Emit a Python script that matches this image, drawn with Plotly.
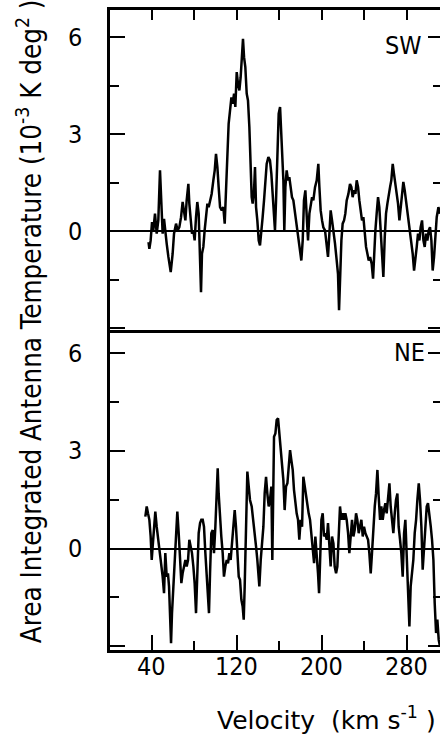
import plotly.graph_objects as go

# ---- data (velocity km/s, temperature 1e-3 K deg^2) ----
sw_velocity = [37.0, 37.8, 39.0, 40.3, 41.5, 43.1, 44.7, 46.2, 47.8, 49.1, 50.3, 51.6, 52.8, 54.1, 55.7, 57.9, 59.7, 61.0, 62.9, 64.4,
               66.0, 67.6, 69.1, 70.4, 71.7, 72.9, 74.5, 75.4, 76.7, 77.9, 79.2, 80.4, 81.7, 82.9, 84.2, 85.5, 86.4, 87.3, 88.6, 89.8,
               91.1, 92.4, 93.6, 94.9, 96.4, 98.0, 99.3, 100.5, 101.8, 103.0, 104.3, 105.9, 107.4, 108.7, 109.9, 111.2, 112.4, 113.7, 115.0, 116.2,
               117.5, 118.7, 120.0, 121.2, 122.5, 123.7, 125.0, 125.9, 126.9, 128.1, 129.4, 130.6, 131.9, 133.1, 134.1, 135.0, 136.3, 137.2, 138.2, 139.4,
               140.7, 141.9, 143.2, 144.4, 145.7, 147.0, 148.2, 149.8, 151.3, 152.6, 153.8, 155.1, 156.0, 157.0, 158.2, 159.5, 160.8, 161.7, 162.6, 163.9,
               164.8, 165.8, 167.0, 168.3, 169.5, 170.8, 172.0, 173.3, 174.9, 176.4, 178.0, 179.6, 180.8, 182.1, 183.3, 184.6, 185.9, 187.1, 188.4, 189.6,
               190.9, 192.1, 193.7, 195.3, 196.8, 197.8, 199.0, 200.3, 201.5, 203.1, 204.7, 205.9, 207.2, 208.4, 209.7, 211.0, 212.5, 214.1, 215.3, 216.3,
               217.2, 218.5, 219.7, 221.0, 222.2, 223.5, 225.1, 226.6, 227.9, 229.1, 230.4, 231.7, 232.9, 234.2, 235.4, 236.7, 237.9, 239.2, 240.4, 241.7,
               243.0, 244.2, 245.5, 247.0, 248.3, 249.2, 250.5, 251.7, 253.0, 254.2, 255.5, 256.8, 258.0, 259.3, 260.5, 261.8, 263.0, 264.3, 265.5, 266.8,
               268.0, 269.3, 270.6, 271.8, 273.1, 274.3, 275.6, 276.8, 278.1, 279.3, 280.6, 281.9, 283.1, 284.4, 285.6, 286.9, 288.1, 289.4, 290.6, 291.9,
               293.1, 294.4, 295.7, 296.9, 298.2, 299.4, 300.7, 301.9, 303.2, 304.4, 305.7, 307.0, 308.2, 309.8, 311.3]
sw_temp = [-0.34, -0.55, -0.29, 0.28, 0.02, 0.54, -0.08, 0.33, 1.88, 0.95, -0.08, 0.38, -0.08, -0.39, -0.80, -1.27, -0.70, -0.08, 0.23, 0.02,
           0.12, 0.43, 0.90, 0.54, 0.33, 0.95, 1.46, 0.85, 0.33, -0.08, 0.02, -0.29, 0.43, 0.90, 0.54, -1.01, -1.89, -0.70, -0.49, 0.02,
           0.54, 0.85, 0.74, 0.90, 1.15, 1.57, 1.88, 2.39, 1.98, 1.36, 0.74, 0.64, 0.74, 0.23, 1.15, 1.98, 3.32, 3.73, 4.14, 3.94,
           4.25, 3.84, 4.92, 4.56, 4.35, 4.76, 5.48, 5.95, 5.38, 5.07, 4.25, 4.04, 3.22, 1.98, 1.05, 0.85, 1.26, 1.98, 0.74, 0.33,
           -0.29, -0.44, -0.08, 0.43, 0.95, 1.77, 2.08, 2.29, 2.19, 1.77, 1.05, 0.54, 0.02, 0.95, 2.49, 3.63, 3.84, 3.22, 2.39, 1.57,
           0.02, 1.36, 1.88, 1.57, 1.67, 1.36, 1.05, 0.95, 0.54, 0.12, -0.29, -0.70, -0.91, -0.29, 0.95, 1.26, 0.43, -0.29, 0.54, 0.85,
           1.05, 0.95, 1.36, 1.57, 2.08, 1.36, 0.64, 0.33, 0.12, 0.02, -0.49, -0.80, -0.08, 0.64, 0.33, 0.02, -0.39, -0.91, -1.32, -2.45,
           -1.42, -0.29, 0.23, 0.33, 0.54, 0.95, 1.15, 1.46, 1.36, 1.05, 1.26, 1.15, 1.57, 1.36, 0.95, 0.54, 0.33, 0.43, -0.08, -0.49,
           -0.70, -0.91, -0.80, -1.01, -1.47, -0.70, 0.02, 0.54, 1.05, 0.74, -0.08, -0.70, -1.42, -0.19, 0.54, 0.85, 1.15, 1.36, 1.57, 2.08,
           1.77, 1.46, 1.05, 0.85, 0.33, 0.74, 1.15, 1.52, 1.26, 0.95, 0.64, 0.33, 0.02, -0.29, -0.70, -1.22, -0.91, -0.49, -0.08, -0.29,
           0.12, 0.33, -0.29, -0.49, -0.08, -0.29, 0.02, 0.12, -0.29, -1.22, -0.80, -0.29, 0.43, 0.74, 0.54]

ne_velocity = [34.0, 35.3, 36.5, 37.8, 39.0, 40.0, 40.9, 42.2, 43.4, 44.7, 46.2, 47.8, 49.1, 50.3, 51.6, 52.8, 54.1, 55.3, 56.3, 57.2,
               58.2, 59.1, 60.4, 61.6, 62.9, 64.1, 65.4, 66.6, 67.9, 69.1, 70.4, 71.7, 72.9, 74.2, 75.4, 76.7, 77.9, 79.2, 80.4, 81.7,
               82.9, 84.2, 85.5, 86.7, 88.0, 89.2, 90.5, 91.7, 93.0, 93.9, 94.9, 96.1, 97.4, 98.6, 99.9, 101.1, 102.1, 103.0, 104.3, 105.5,
               106.8, 108.0, 109.3, 110.6, 111.8, 113.1, 114.3, 115.6, 116.8, 118.1, 119.3, 120.6, 121.9, 123.1, 124.4, 125.6, 126.6, 127.5, 128.8, 130.0,
               131.3, 132.5, 134.1, 135.7, 136.9, 138.2, 139.4, 140.7, 141.3, 142.6, 143.8, 145.1, 146.3, 147.6, 148.8, 150.1, 151.3, 152.6, 153.5, 154.5,
               155.1, 156.4, 157.6, 158.9, 160.1, 161.4, 162.6, 163.9, 165.1, 166.4, 167.7, 168.9, 170.2, 171.4, 172.7, 173.9, 175.2, 176.4, 177.7, 178.9,
               180.2, 181.5, 182.7, 184.0, 185.2, 186.5, 187.7, 189.0, 190.2, 191.5, 192.8, 194.0, 195.3, 196.5, 197.5, 198.4, 199.7, 200.9, 202.2, 203.4,
               204.7, 205.9, 207.2, 208.4, 209.7, 211.0, 212.2, 213.5, 214.7, 216.0, 217.2, 218.5, 219.7, 221.0, 222.2, 223.5, 224.8, 226.0, 227.3, 228.5,
               229.8, 231.0, 232.3, 233.5, 234.8, 236.1, 237.3, 238.6, 239.8, 241.1, 242.3, 243.6, 244.8, 246.1, 247.3, 248.6, 249.9, 251.1, 252.4, 253.6,
               254.9, 256.1, 257.4, 258.6, 259.9, 261.1, 262.4, 263.7, 264.9, 266.2, 267.4, 268.7, 269.9, 271.2, 272.4, 273.7, 274.9, 276.2, 277.5, 278.7,
               280.0, 281.2, 282.5, 283.7, 285.0, 286.2, 287.5, 288.8, 290.0, 291.3, 292.5, 293.8, 295.0, 296.3, 297.5, 298.8, 300.0, 301.3, 302.6, 303.8,
               305.1, 306.3, 307.6, 308.8, 310.1, 311.3]
ne_temp = [0.98, 1.29, 1.08, 0.88, 0.37, -0.35, 0.06, 0.78, 1.13, 0.67, 0.27, -0.14, -0.55, -0.86, -1.37, -0.14, -0.86, -0.76, -1.16, -2.18,
           -2.90, -1.98, -1.16, -0.14, 0.67, 1.13, 0.47, -0.35, -1.06, -0.76, -0.55, -0.35, -0.55, -0.35, 0.27, 0.06, -0.14, -0.55, -1.06, -1.98,
           -0.35, 0.47, 0.78, 0.88, 0.88, 0.67, -0.14, -0.76, -1.16, -1.98, -0.76, 0.47, 0.57, -0.14, 0.67, 1.49, 2.46, 1.69, 0.88, 0.37,
           -0.14, -0.86, -0.55, -0.35, -0.45, -0.14, -0.35, 0.27, 0.78, 1.18, 0.67, -0.35, -0.86, -0.96, -1.57, -1.78, -2.18, -1.16, 0.67, 2.36,
           1.90, 1.49, 1.29, 0.88, 0.47, 0.06, -0.35, -0.96, -1.16, -0.35, 0.27, 0.67, 1.69, 2.20, 1.69, 1.29, 1.49, 1.90, -0.35, 2.10,
           3.43, 3.53, 3.94, 3.99, 3.53, 2.92, 2.51, 2.10, 1.18, 1.90, 2.00, 2.61, 3.02, 2.71, 2.41, 1.80, 1.39, 1.08, 0.88, 0.27,
           0.88, 0.67, 2.20, 1.90, 1.69, 1.29, 1.08, 0.88, 0.37, -0.14, -0.45, 0.37, -0.14, -0.76, -1.37, -0.14, 0.88, 1.08, 0.37, 0.47,
           0.27, 0.78, -0.14, -0.55, 0.37, 0.16, -0.55, -0.76, -0.55, 0.27, 1.29, 0.88, 1.08, 0.88, 1.08, 0.88, 0.47, -0.14, 0.47, 0.88,
           0.37, 0.57, 1.08, 0.88, 0.47, 0.67, 0.88, 0.37, 0.67, 0.47, 0.37, 0.27, -0.14, -0.76, -0.14, 0.67, 1.29, 1.69, 2.41, 1.59,
           0.88, 1.29, 0.88, 1.18, 1.39, 1.08, 1.59, 2.00, 1.29, 0.88, 0.47, 1.08, 1.49, 1.69, 0.67, 0.27, -0.14, -0.86, 0.47, 0.88,
           -0.35, -1.78, -2.39, -1.16, -0.76, -0.35, 0.47, 0.88, 1.49, 2.00, 1.49, 0.67, -0.65, 0.06, 0.88, 1.29, 1.39, 1.08, 0.67, 0.27,
           -0.35, -1.67, -2.59, -2.18, -2.80, -3.00]

x_range = [0.75, 311.3]
sw_range = [-3.06, 6.84]
ne_range = [-3.11, 6.70]
x_ticks = [40, 120, 200, 280]
y_ticks = [-3, 0, 3, 6]
y_ticktext = ["", "0", "3", "6"]

FONT = "DejaVu Sans Condensed, Liberation Sans Narrow, DejaVu Sans, sans-serif"
WIDE = "DejaVu Sans, sans-serif"
INK = "black"

fig = go.Figure()
fig.add_trace(go.Scatter(x=sw_velocity, y=sw_temp, mode="lines",
                         line=dict(color=INK, width=2.5), xaxis="x", yaxis="y", showlegend=False))
fig.add_trace(go.Scatter(x=ne_velocity, y=ne_temp, mode="lines",
                         line=dict(color=INK, width=2.5), xaxis="x2", yaxis="y2", showlegend=False))

common_x = dict(range=x_range, showgrid=False, zeroline=False, linecolor=INK, linewidth=2.5)
left_y = dict(showgrid=False, zeroline=True, zerolinecolor=INK, zerolinewidth=1.5,
              linecolor=INK, linewidth=2.5, showline=True, ticks="inside", ticklen=15, tickwidth=2,
              tickcolor=INK, tickvals=y_ticks, ticktext=y_ticktext, ticklabelstandoff=20,
              tickfont=dict(family=FONT, size=25, color=INK),
              minor=dict(ticks="inside", ticklen=9, tickwidth=2, tickcolor=INK, dtick=1.5, tick0=0))
right_y = dict(showgrid=False, zeroline=False, showline=False, side="right",
               ticks="inside", ticklen=12, tickwidth=2, tickcolor=INK, tickvals=y_ticks,
               showticklabels=False,
               minor=dict(ticks="inside", ticklen=7, tickwidth=2, tickcolor=INK, dtick=1.5, tick0=0))

fig.update_layout(
    width=440, height=738,
    margin=dict(l=110, r=0, t=10, b=88),
    paper_bgcolor="white", plot_bgcolor="white",
    font=dict(family=FONT, color=INK),
    # top panel (SW)
    xaxis=dict(**common_x, domain=[0, 1], anchor="y", showline=True, ticks="", showticklabels=False),
    yaxis=dict(**left_y, domain=[0.5, 1], range=sw_range, anchor="x"),
    xaxis3=dict(**common_x, overlaying="x", side="top", anchor="y", showline=True,
                ticks="inside", ticklen=10, tickwidth=2, tickcolor=INK, dtick=40, tick0=0,
                showticklabels=False),
    yaxis3=dict(**right_y, overlaying="y", range=sw_range, anchor="x"),
    # bottom panel (NE)
    xaxis2=dict(**common_x, domain=[0, 1], anchor="y2", showline=True,
                ticks="inside", ticklen=15, tickwidth=2, tickcolor=INK, tickvals=x_ticks,
                showticklabels=False,
                minor=dict(ticks="inside", ticklen=9, tickwidth=2, tickcolor=INK, dtick=40, tick0=0)),
    yaxis2=dict(**left_y, domain=[0, 0.5], range=ne_range, anchor="x2"),
    yaxis4=dict(**right_y, overlaying="y2", range=ne_range, anchor="x2"),
)

# dummy traces to activate overlay axes
fig.add_trace(go.Scatter(x=[None], y=[None], xaxis="x3", yaxis="y3", showlegend=False, hoverinfo="skip"))
fig.add_trace(go.Scatter(x=[None], y=[None], xaxis="x2", yaxis="y4", showlegend=False, hoverinfo="skip"))

# x tick labels (placed at the tick values of the bottom axis)
for v in x_ticks:
    fig.add_annotation(text=str(v), xref="x2", yref="paper", x=v, y=-0.026, xanchor="center",
                       yanchor="middle", showarrow=False, font=dict(family=FONT, size=25, color=INK))

fig.add_annotation(text="SW", xref="paper", yref="y", x=0.953, y=5.75, xanchor="right", yanchor="middle",
                   showarrow=False, font=dict(family=FONT, size=25, color=INK))
fig.add_annotation(text="NE", xref="paper", yref="y2", x=0.962, y=6, xanchor="right", yanchor="middle",
                   showarrow=False, font=dict(family=FONT, size=25, color=INK))

fig.add_annotation(text="Area Integrated Antenna Temperature (10<sup>-3</sup> K deg<sup>2</sup> )",
                   xref="paper", yref="paper", x=-0.245, y=0.514, xanchor="center", yanchor="middle",
                   textangle=-90, showarrow=False, font=dict(family=FONT, size=27.5, color=INK))
fig.add_annotation(text="Velocity  (km s<sup>-1</sup> )", xref="paper", yref="paper",
                   x=0.318, y=-0.1075, xanchor="left", yanchor="middle", showarrow=False,
                   font=dict(family=WIDE, size=25, color=INK))

fig.write_html("out.html", config={"displayModeBar": False},
               post_script="document.body.style.margin='0';document.body.style.overflow='hidden';")
